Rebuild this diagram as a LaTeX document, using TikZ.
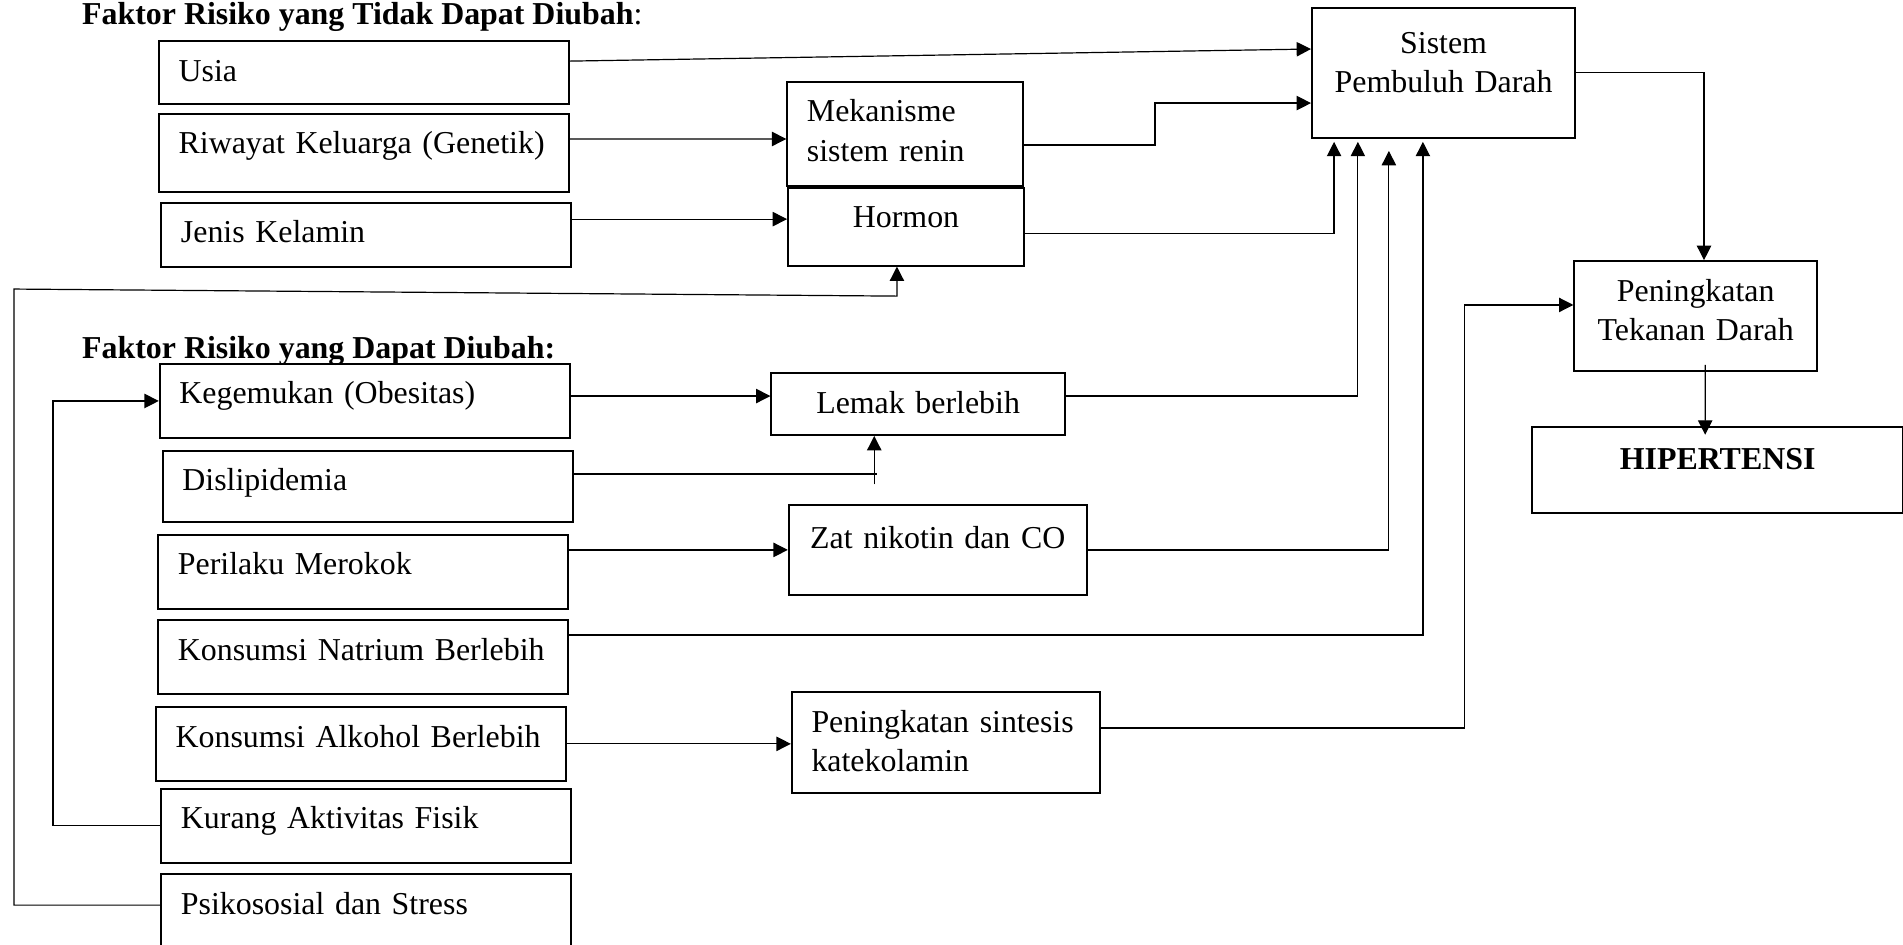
\documentclass[tikz,border=0pt]{standalone}
\usepackage{fontspec}
\setmainfont{Liberation Serif}
\usetikzlibrary{arrows.meta}

\begin{document}
\begin{tikzpicture}[
	font=\fontsize{12}{14.7}\selectfont,
	% Style for every box
	kotak/.style={
		rectangle,
		draw=black,
		line width=0.75pt,
		anchor=north west,
		inner ysep=0pt,
		text height=0.53cm
	},
	% Style for the risk factor boxes on the left
	faktor/.style={
		kotak,
		inner xsep=0.26cm,
		text width=4.9cm,
		align=left
	},
	kiri/.style={
		kotak,
		inner xsep=0.26cm,
		align=left
	},
	tengah/.style={
		kotak,
		inner xsep=0.1cm,
		align=center
	},
	% Style for the two headings
	judul/.style={
		anchor=base west,
		inner sep=0pt
	},
	garis/.style={line width=0.45pt},
	panah/.style={line width=0.45pt, -{Triangle[length=1.9mm, width=1.9mm]}}
	]
	\useasboundingbox (0,0) rectangle (25.17,-12.49);
	
	% Risk factors that cannot be changed
	\node[judul] (judul1) at (1.08,-0.33) {\textbf{Faktor Risiko yang Tidak Dapat Diubah}:};
	\node[faktor, text depth=0.30cm] (usia) at (2.09,-0.53) {Usia};
	\node[faktor, text depth=0.51cm] (riwayat) at (2.09,-1.49) {Riwayat Keluarga (Genetik)};
	\node[faktor, text depth=0.32cm] (jenis) at (2.12,-2.67) {Jenis Kelamin};
	
	% Risk factors that can be changed
	\node[judul] (judul2) at (1.08,-4.74) {\textbf{Faktor Risiko yang Dapat Diubah:}};
	\node[faktor, text depth=0.45cm] (kegemukan) at (2.10,-4.80) {Kegemukan (Obesitas)};
	\node[faktor, text depth=0.41cm] (dislipidemia) at (2.14,-5.95) {Dislipidemia};
	\node[faktor, text depth=0.45cm] (merokok) at (2.08,-7.06) {Perilaku Merokok};
	\node[faktor, text depth=0.45cm] (natrium) at (2.08,-8.19) {Konsumsi Natrium Berlebih};
	\node[faktor, text depth=0.44cm] (alkohol) at (2.05,-9.34) {Konsumsi Alkohol Berlebih};
	\node[faktor, text depth=0.45cm] (aktivitas) at (2.12,-10.42) {Kurang Aktivitas Fisik};
	\node[faktor, text depth=0.60cm] (stress) at (2.12,-11.55) {Psikososial dan Stress};
	
	% Mechanisms in the middle
	\node[kiri, text width=2.6cm, text depth=0.85cm] (renin) at (10.40,-1.07) {Mekanisme\\sistem renin};
	\node[tengah, text width=2.92cm, text depth=0.50cm] (hormon) at (10.41,-2.47) {Hormon};
	\node[tengah, text width=3.68cm, text height=0.54cm, text depth=0.28cm] (lemak) at (10.19,-4.92) {Lemak berlebih};
	\node[tengah, text width=3.74cm, text height=0.57cm, text depth=0.61cm] (nikotin) at (10.42,-6.67) {Zat nikotin dan CO};
	\node[kiri, text width=3.55cm, text depth=0.81cm] (katekolamin) at (10.46,-9.14) {Peningkatan sintesis\\katekolamin};
	
	% Right column
	\node[tengah, text width=3.28cm, text height=0.60cm, text depth=1.12cm] (pembuluh) at (17.34,-0.09) {Sistem\\Pembuluh Darah};
	\node[tengah, text width=3.01cm, text depth=0.93cm] (tekanan) at (20.81,-3.44) {Peningkatan\\Tekanan Darah};
	\node[tengah, text width=4.71cm, text height=0.56cm, text depth=0.58cm] (hipertensi) at (20.25,-5.63) {\textbf{HIPERTENSI}};
	
	% Arrows from the fixed factors
	\draw[panah] ([yshift=0.15cm]usia.east) -- ([yshift=0.315cm]pembuluh.west);
	\draw[panah] ([yshift=0.185cm]riwayat.east) -- ([yshift=-0.065cm]renin.west);
	\draw[panah] ([yshift=0.21cm]jenis.east) -- ([yshift=0.10cm]hormon.west);
	\draw[panah] ([yshift=-0.145cm]renin.east) -- ++(1.73,0) |- ([yshift=-0.40cm]pembuluh.west);
	\draw[panah] ([yshift=-0.085cm]hormon.east) -| ([xshift=0.305cm,yshift=-0.04cm]pembuluh.south west);
	
	% Stress goes round to the hormones
	\coordinate (sudut) at (0.185,-3.823);
	\draw[panah] ([yshift=0.157cm]stress.west) -| (sudut) -- ([xshift=-0.12cm,yshift=-0.39cm]hormon.south) -- ([xshift=-0.12cm]hormon.south);
	
	% Arrows from the factors that can be changed
	\draw[panah] (aktivitas.west) -- ++(-1.42,0) |- (kegemukan.west);
	\draw[panah] ([yshift=0.065cm]kegemukan.east) -- ([yshift=0.105cm]lemak.west);
	\draw[panah] ([yshift=0.105cm]lemak.east) -| ([xshift=0.62cm,yshift=-0.04cm]pembuluh.south west);
	\draw[garis] ([yshift=0.163cm]dislipidemia.east) -- ++(4.01,0);
	\draw[panah] ([xshift=-0.58cm,yshift=-0.64cm]lemak.south) -- ([xshift=-0.58cm]lemak.south);
	\draw[panah] (merokok.east |- nikotin.west) -- (nikotin.west);
	\draw[panah] (nikotin.east) -| ([xshift=1.03cm,yshift=-0.16cm]pembuluh.south west);
	\draw[panah] ([yshift=0.294cm]natrium.east) -| ([xshift=1.48cm,yshift=-0.04cm]pembuluh.south west);
	\draw[panah] (alkohol.east) -- (alkohol.east -| katekolamin.west);
	\draw[panah] ([yshift=0.194cm]katekolamin.east) -- ++(4.81,0) |- ([yshift=0.15cm]tekanan.west);
	
	% Towards hypertension
	\draw[panah] (pembuluh.east) -| ([xshift=0.11cm]tekanan.north);
	\draw[panah] ([xshift=0.125cm,yshift=0.1cm]tekanan.south) -- ([xshift=-0.165cm,yshift=-0.12cm]hipertensi.north);
	
\end{tikzpicture}
\end{document}
